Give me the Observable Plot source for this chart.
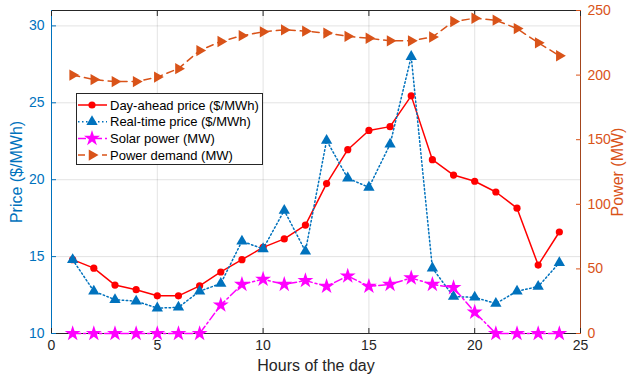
<!DOCTYPE html>
<html>
<head>
<meta charset="utf-8">
<script src="https://cdn.jsdelivr.net/npm/d3@7"></script>
<script src="https://cdn.jsdelivr.net/npm/@observablehq/plot@0.6"></script>
<style>
  html, body { margin: 0; padding: 0; background: white; }
  #wrap { position: relative; width: 631px; height: 378px; font-family: "Liberation Sans", Arial, sans-serif; }
  #legend { position: absolute; left: 76px; top: 93px; }
  g[aria-label$="axis label"] { font-size: 16px; }
</style>
</head>
<body>
<div id="wrap"></div>
<script>
// ---- data ----
const hours = [1,2,3,4,5,6,7,8,9,10,11,12,13,14,15,16,17,18,19,20,21,22,23,24];
const dayAheadPrice = [14.8,14.25,13.15,12.85,12.45,12.45,13.1,14.0,14.8,15.6,16.15,17.05,19.75,21.95,23.2,23.45,25.45,21.3,20.3,19.9,19.2,18.15,14.45,16.6];
const realTimePrice = [14.8,12.75,12.2,12.1,11.65,11.7,12.75,13.25,16.0,15.5,18.0,15.35,22.55,20.1,19.5,22.3,28.0,14.25,12.4,12.35,11.95,12.75,13.05,14.6];
const solarPower = [0,0,0,0,0,0,0,22,38,42,38,41,36.5,44.5,36.5,38,43,38,35.5,16.5,0,0,0,0];
const powerDemand = [200,196.5,195,195,198.5,205,219,226,230.5,233.5,235,234,232.5,230,228.5,226.5,226.5,229.5,241.5,244,242.5,236,225,215];
const seriesNames = ["Day-ahead price ($/MWh)","Real-time price ($/MWh)","Solar power (MW)","Power demand (MW)"];
const xTicks = [0,5,10,15,20,25];
const priceTicks = [10,15,20,25,30];
const powerTicks = [0,50,100,150,200,250];
const priceDomain = [10,31];
const powerDomain = [0,250];

// ---- styles ----
const BLUE = "#0072BD", ORANGE = "#D95319", RED = "#FF0000", MAGENTA = "#FF00FF", AX = "#262626";
const toPrice = d3.scaleLinear().domain(powerDomain).range(priceDomain);

const rows = (vals, power) => hours.map((h, i) => ({h, v: power ? toPrice(vals[i]) : vals[i]}));
const da = rows(dayAheadPrice, false), rt = rows(realTimePrice, false);
const so = rows(solarPower, true), de = rows(powerDemand, true);

const styles = [
  {color: RED, dash: null, symbol: "circle", r: 3.6, rotate: 0},
  {color: BLUE, dash: "1.5,2.5", symbol: "triangle", r: 4.2, rotate: 0},
  {color: MAGENTA, dash: "8,3,2,3", symbol: "star", r: 5, rotate: 0},
  {color: ORANGE, dash: "7,5", symbol: "triangle", r: 4.2, rotate: 90}
];
const datasets = [da, rt, so, de];

const seriesMarks = datasets.flatMap((data, i) => {
  const s = styles[i];
  return [
    Plot.line(data, {x: "h", y: "v", stroke: s.color, strokeWidth: 1.5, strokeDasharray: s.dash}),
    Plot.dot(data, {x: "h", y: "v", fill: s.color, stroke: "none", symbol: s.symbol, r: s.r, rotate: s.rotate})
  ];
});

const chart = Plot.plot({
  width: 631, height: 378,
  marginLeft: 51, marginRight: 51, marginTop: 10, marginBottom: 45,
  style: {fontFamily: '"Liberation Sans", Arial, sans-serif', fontSize: "14px", background: "white", overflow: "visible"},
  x: {domain: [0, 25]},
  y: {domain: priceDomain},
  marks: [
    Plot.gridX(xTicks.slice(1, -1), {stroke: AX, strokeOpacity: 0.13, strokeWidth: 1}),
    Plot.gridY(priceTicks.slice(1), {stroke: AX, strokeOpacity: 0.13, strokeWidth: 1}),
    Plot.frame({stroke: AX, strokeWidth: 1}),
    Plot.ruleX([0], {stroke: BLUE, strokeWidth: 1}),
    Plot.ruleX([25], {stroke: ORANGE, strokeWidth: 1, strokeOpacity: 0.7}),
    // bottom axis
    Plot.axisX(xTicks, {anchor: "bottom", tickSize: -5, tickPadding: 12, color: AX, fill: AX,
      label: "Hours of the day", labelAnchor: "center", labelArrow: "none", labelOffset: 37}),
    Plot.axisX(xTicks, {anchor: "top", tickSize: -5, tickFormat: () => "", color: AX, label: null}),
    // left axis
    Plot.axisY(priceTicks, {anchor: "left", tickSize: -5, tickPadding: 12, color: BLUE, fill: BLUE,
      label: "Price ($/MWh)", labelAnchor: "center", labelArrow: "none", labelOffset: 41}),
    // right axis
    Plot.axisY(powerTicks.map(toPrice), {anchor: "right", tickSize: -5, tickPadding: 12, color: ORANGE, fill: ORANGE,
      tickFormat: d => String(Math.round(toPrice.invert(d))),
      label: "Power (MW)", labelAnchor: "center", labelArrow: "none", labelOffset: 42}),
    ...seriesMarks
  ]
});
document.getElementById("wrap").appendChild(chart);

// ---- legend ----
const lw = 186, lh = 71, rowH = 16.7;
const legend = d3.select("#wrap").append("svg").attr("id", "legend")
  .attr("width", lw + 1).attr("height", lh + 1);
legend.append("rect").attr("x", 0.5).attr("y", 0.5).attr("width", lw).attr("height", lh)
  .attr("fill", "white").attr("stroke", AX).attr("stroke-width", 1);
const symMap = {circle: d3.symbolCircle, triangle: d3.symbolTriangle, star: d3.symbolStar};
seriesNames.forEach((name, i) => {
  const s = styles[i];
  const cy = 12 + i * rowH;
  const g = legend.append("g");
  g.append("line").attr("x1", 2).attr("x2", 31).attr("y1", cy).attr("y2", cy)
    .attr("stroke", s.color).attr("stroke-width", 1.5).attr("stroke-dasharray", s.dash);
  g.append("path").attr("d", d3.symbol(symMap[s.symbol], Math.PI * s.r * s.r)())
    .attr("transform", `translate(16,${cy}) rotate(${s.rotate})`).attr("fill", s.color);
  g.append("text").attr("x", 34).attr("y", cy).attr("dy", "0.35em")
    .attr("font-family", '"Liberation Sans", Arial, sans-serif').attr("font-size", 13)
    .attr("fill", "#000").text(name);
});
</script>
</body>
</html>
